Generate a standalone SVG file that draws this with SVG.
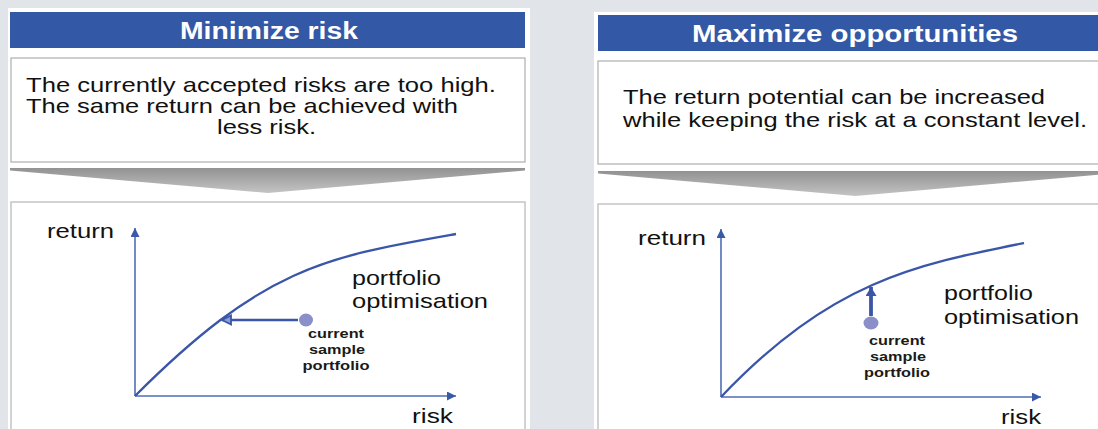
<svg xmlns="http://www.w3.org/2000/svg" width="1098" height="429" viewBox="0 0 1098 429">
<style>
.bg{fill:#e1e5e9}
.col{fill:#ffffff}
.hdr{fill:#3358a6}
.box{fill:#ffffff;stroke:#aeaeae;stroke-width:1.2}
.cbox{fill:#ffffff;stroke:#c4c4c4;stroke-width:1.5}
.ht{font-family:"Liberation Sans",Arial,sans-serif;font-weight:bold;font-size:23px;fill:#ffffff}
.bt{font-family:"Liberation Sans",Arial,sans-serif;font-size:21px;fill:#111111}
.st{font-family:"Liberation Sans",Arial,sans-serif;font-weight:bold;font-size:13px;fill:#1a1a1a}
.axis{fill:none;stroke:#4f6db6;stroke-width:1.6}
.curve{fill:none;stroke:#3a56a8;stroke-width:2.3}
.dot{fill:#8a8fc8}
</style>
<defs>
<linearGradient id="chev" x1="0" y1="0" x2="0" y2="1">
<stop offset="0" stop-color="#929292"/>
<stop offset="1" stop-color="#c4c4c4"/>
</linearGradient>
<marker id="axhead" markerUnits="userSpaceOnUse" markerWidth="10" markerHeight="10" refX="9" refY="4.5" orient="auto">
<path d="M0,0 L9,4.5 L0,9 z" fill="#3a5aa8"/>
</marker>
<marker id="openhead" markerUnits="userSpaceOnUse" markerWidth="12" markerHeight="12" refX="10" refY="5.5" orient="auto">
<path d="M1,1 L10,5.5 L1,10 z" fill="#8e9ed4" stroke="#3a56a8" stroke-width="1.8" stroke-linejoin="miter"/>
</marker>
<marker id="fillhead" markerUnits="userSpaceOnUse" markerWidth="12" markerHeight="12" refX="9" refY="5.5" orient="auto">
<path d="M0,0 L9,5.5 L0,11 z" fill="#3a56a8"/>
</marker>
</defs>
<rect class="bg" x="0" y="0" width="1098" height="429"/>

<g id="panel-left">
<rect class="col" x="8" y="8" width="522" height="421"/>
<g id="left-header">
<rect class="hdr" x="10" y="12" width="515" height="36"/>
<text class="ht" x="269" y="39" text-anchor="middle" textLength="178" lengthAdjust="spacingAndGlyphs">Minimize risk</text>
</g>
<g id="left-text">
<rect class="box" x="11" y="58" width="514" height="104"/>
<text class="bt" x="26" y="92" textLength="470" lengthAdjust="spacingAndGlyphs">The currently accepted risks are too high.</text>
<text class="bt" x="26" y="113" textLength="432" lengthAdjust="spacingAndGlyphs">The same return can be achieved with</text>
<text class="bt" x="217" y="134" textLength="99" lengthAdjust="spacingAndGlyphs">less risk.</text>
</g>
<g id="left-chevron">
<polygon points="10,168 525,168 525,170.5 268,193 10,170.5" fill="url(#chev)"/>
</g>
<g id="left-chart">
<rect class="cbox" x="11" y="202" width="514" height="240"/>
<text class="bt" x="47" y="238" textLength="67" lengthAdjust="spacingAndGlyphs">return</text>
<text class="bt" x="412" y="423" textLength="41" lengthAdjust="spacingAndGlyphs">risk</text>
<text class="bt" x="352" y="285" textLength="89" lengthAdjust="spacingAndGlyphs">portfolio</text>
<text class="bt" x="352" y="308" textLength="136" lengthAdjust="spacingAndGlyphs">optimisation</text>
</g>
<g id="left-sample">
<ellipse class="dot" cx="306" cy="320" rx="7" ry="6.5"/>
<text class="st" x="336" y="338" text-anchor="middle" textLength="56" lengthAdjust="spacingAndGlyphs">current</text>
<text class="st" x="337" y="354" text-anchor="middle" textLength="56" lengthAdjust="spacingAndGlyphs">sample</text>
<text class="st" x="336" y="370" text-anchor="middle" textLength="67" lengthAdjust="spacingAndGlyphs">portfolio</text>
</g>
</g>

<g id="panel-right">
<rect class="col" x="594" y="12" width="510" height="417"/>
<g id="right-header">
<rect class="hdr" x="598" y="15" width="515" height="36"/>
<text class="ht" x="855" y="42" text-anchor="middle" textLength="326" lengthAdjust="spacingAndGlyphs">Maximize opportunities</text>
</g>
<g id="right-text">
<rect class="box" x="598" y="61" width="514" height="103"/>
<text class="bt" x="623" y="104" textLength="422" lengthAdjust="spacingAndGlyphs">The return potential can be increased</text>
<text class="bt" x="623" y="127" textLength="464" lengthAdjust="spacingAndGlyphs">while keeping the risk at a constant level.</text>
</g>
<g id="right-chevron">
<polygon points="598,171 1113,171 1113,173.5 855.5,196 598,173.5" fill="url(#chev)"/>
</g>
<g id="right-chart">
<rect class="cbox" x="598" y="204" width="514" height="240"/>
<text class="bt" x="638" y="245" textLength="68" lengthAdjust="spacingAndGlyphs">return</text>
<text class="bt" x="1001" y="424" textLength="40" lengthAdjust="spacingAndGlyphs">risk</text>
<text class="bt" x="944" y="300" textLength="89" lengthAdjust="spacingAndGlyphs">portfolio</text>
<text class="bt" x="944" y="324" textLength="135" lengthAdjust="spacingAndGlyphs">optimisation</text>
</g>
<g id="right-sample">
<ellipse class="dot" cx="871" cy="323" rx="7.5" ry="6.5"/>
<text class="st" x="897" y="345" text-anchor="middle" textLength="56" lengthAdjust="spacingAndGlyphs">current</text>
<text class="st" x="898" y="361" text-anchor="middle" textLength="56" lengthAdjust="spacingAndGlyphs">sample</text>
<text class="st" x="897" y="377" text-anchor="middle" textLength="66" lengthAdjust="spacingAndGlyphs">portfolio</text>
</g>
</g>

<g id="connectors">
<line class="axis" x1="135" y1="396" x2="135" y2="228" marker-end="url(#axhead)"/>
<line class="axis" x1="135" y1="396" x2="456" y2="396" marker-end="url(#axhead)"/>
<path class="curve" d="M135,396 C265,266 326,257 456,234"/>
<line x1="298" y1="320" x2="222" y2="320" stroke="#3a56a8" stroke-width="2.6" marker-end="url(#openhead)"/>

<line class="axis" x1="721" y1="397" x2="721" y2="229" marker-end="url(#axhead)"/>
<line class="axis" x1="721" y1="397" x2="1041" y2="397" marker-end="url(#axhead)"/>
<path class="curve" d="M721,397 C831,281.5 914,265 1024,243"/>
<line x1="871" y1="316" x2="871" y2="287" stroke="#3a56a8" stroke-width="3.8" marker-end="url(#fillhead)"/>
</g>
</svg>
